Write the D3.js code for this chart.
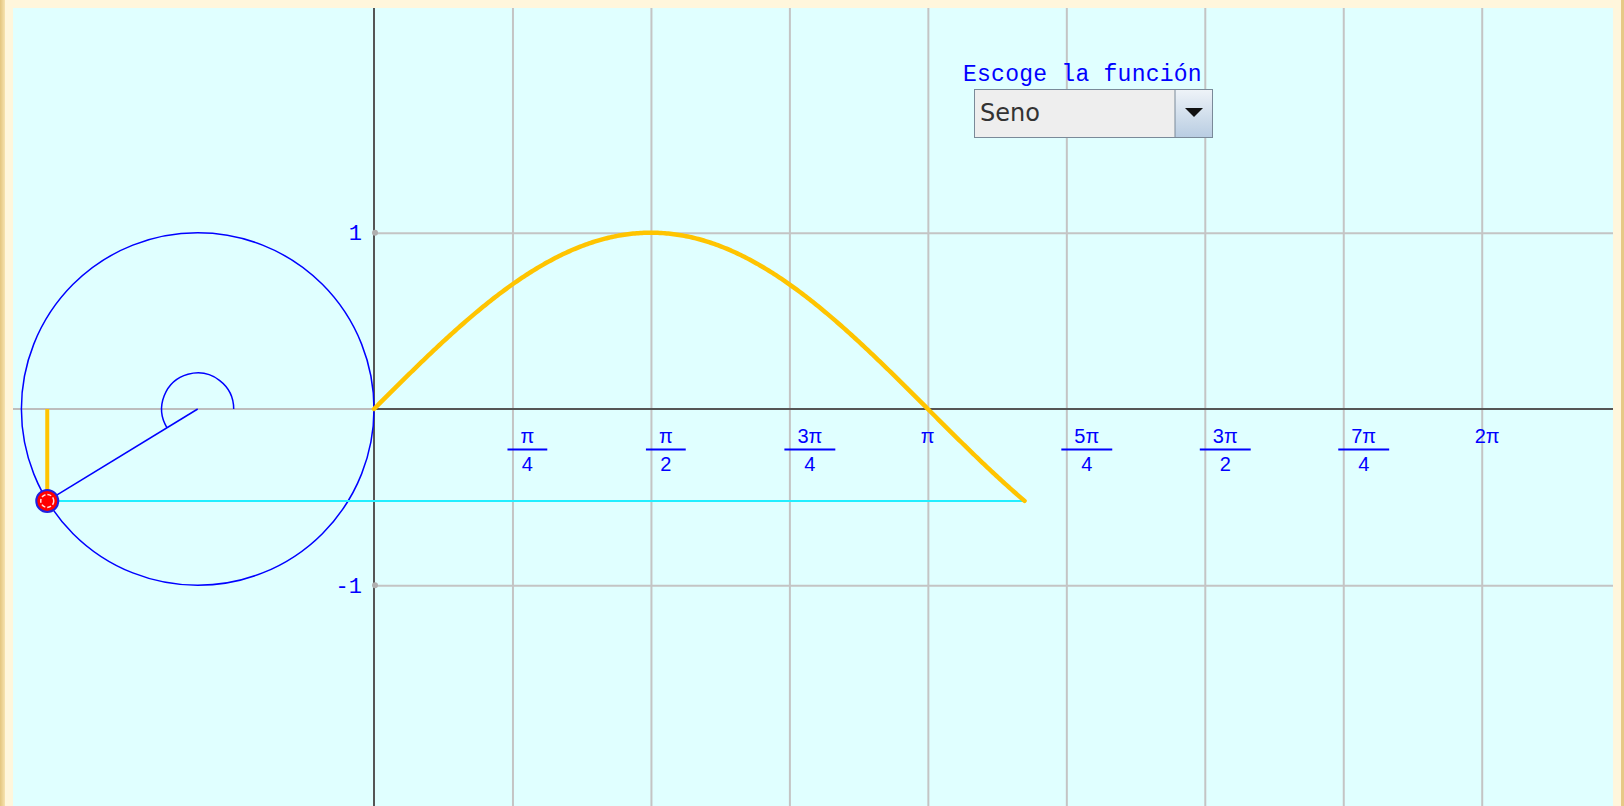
<!DOCTYPE html>
<html>
<head>
    <meta charset="utf-8">
    <script src="https://d3js.org/d3.v7.min.js"></script>
    <style>
        body { margin: 0; background: #fff6dc; overflow: hidden; }
        svg { display: block; }
    </style>
</head>
<body>
<svg id="chart"></svg>
<script>
    // tick values and labels of the x axis (radians)
    var xTickValues = [Math.PI / 4, Math.PI / 2, 3 * Math.PI / 4, Math.PI, 5 * Math.PI / 4, 3 * Math.PI / 2, 7 * Math.PI / 4, 2 * Math.PI];
    var xTickNums = ["π", "π", "3π", "π", "5π", "3π", "7π", "2π"];
    var xTickDens = ["4", "2", "4", "", "4", "2", "4", ""];
    // y axis
    var yTickValues = [1, -1];
    var yTickLabels = ["1", "-1"];
    // current angle of the point on the unit circle
    var angle = 3.69;
    var funciones = ["Seno"];
    var titulo = "Escoge la función";

    var width = 1624, height = 806;
    var panel = { left: 13, top: 8, right: 1613, bottom: 806 };
    var origin = { x: 374, y: 409 }, unit = 176.3;

    var svg = d3.select("#chart").attr("width", width).attr("height", height);

    var defs = svg.append("defs");
    var gold = defs.append("linearGradient").attr("id", "gold").attr("x1", 0).attr("x2", 1);
    gold.append("stop").attr("offset", 0).attr("stop-color", "#e3c57f");
    gold.append("stop").attr("offset", 1).attr("stop-color", "#f7e3b0");
    var btn = defs.append("linearGradient").attr("id", "btn").attr("x1", 0).attr("x2", 0).attr("y1", 0).attr("y2", 1);
    btn.append("stop").attr("offset", 0).attr("stop-color", "#eef3f8");
    btn.append("stop").attr("offset", 1).attr("stop-color", "#b9cde2");

    // frame
    svg.append("rect").attr("width", width).attr("height", height).attr("fill", "#fff6dc");
    svg.append("rect").attr("x", 0).attr("width", 5).attr("height", height).attr("fill", "url(#gold)");
    svg.append("rect").attr("x", 1621).attr("width", 3).attr("height", height).attr("fill", "#e6c987");
    svg.append("rect")
        .attr("x", panel.left).attr("y", panel.top)
        .attr("width", panel.right - panel.left).attr("height", panel.bottom - panel.top)
        .attr("fill", "#e0ffff");

    var x = d3.scaleLinear().domain([0, 1]).range([origin.x, origin.x + unit]);
    var y = d3.scaleLinear().domain([0, 1]).range([origin.y, origin.y - unit]);

    // vertical grid
    svg.append("g")
        .attr("transform", "translate(0," + panel.top + ")")
        .call(d3.axisBottom(x).tickValues(xTickValues).tickSize(panel.bottom - panel.top).tickFormat(""))
        .call(g => g.select(".domain").remove())
        .selectAll("line").attr("stroke", "#c4c4c4").attr("stroke-width", 2);

    // horizontal grid at 1 and -1
    svg.append("g")
        .attr("transform", "translate(" + origin.x + ",0)")
        .call(d3.axisRight(y).tickValues(yTickValues).tickSize(panel.right - origin.x).tickFormat(""))
        .call(g => g.select(".domain").remove())
        .selectAll("line").attr("stroke", "#c4c4c4").attr("stroke-width", 2);

    // left part of the horizontal axis (light)
    svg.append("line")
        .attr("x1", panel.left).attr("x2", origin.x).attr("y1", y(0)).attr("y2", y(0))
        .attr("stroke", "#bdbdbd").attr("stroke-width", 2);

    // axes
    svg.append("line")
        .attr("x1", origin.x).attr("x2", panel.right).attr("y1", y(0)).attr("y2", y(0))
        .attr("stroke", "#555").attr("stroke-width", 2);
    svg.append("line")
        .attr("x1", x(0)).attr("x2", x(0)).attr("y1", panel.top).attr("y2", panel.bottom)
        .attr("stroke", "#555").attr("stroke-width", 2);

    // small dots where grid meets y axis
    svg.append("g").selectAll("circle").data(yTickValues).join("circle")
        .attr("cx", x(0) + 1).attr("cy", d => y(d)).attr("r", 3).attr("fill", "#b0b0b0");

    // y labels
    svg.append("g")
        .attr("transform", "translate(" + (origin.x - 1) + ",0)")
        .call(d3.axisLeft(y).tickValues(yTickValues).tickSize(0).tickPadding(11)
            .tickFormat((d, i) => yTickLabels[i]))
        .call(g => g.select(".domain").remove())
        .selectAll("text")
        .attr("fill", "#0000ff")
        .style("font-family", "'Liberation Mono', monospace")
        .style("font-size", "22px");

    // x labels (fractions)
    var lab = svg.append("g").selectAll("g").data(xTickValues).join("g")
        .style("font-family", "'Liberation Sans', Arial, sans-serif")
        .style("font-size", "20px")
        .attr("fill", "#0000ff");

    lab.each(function (d, i) {
        var g = d3.select(this);
        if (xTickDens[i] === "") {
            g.append("text").attr("x", x(d) - 7).attr("y", 443).text(xTickNums[i]);
            return;
        }
        var num = g.append("text").attr("y", 443).attr("text-anchor", "middle").text(xTickNums[i]);
        var den = g.append("text").attr("y", 471).attr("text-anchor", "middle").text(xTickDens[i]);
        var w = Math.max(num.node().getComputedTextLength(), den.node().getComputedTextLength()) + 26;
        var x0 = x(d) - 5;
        num.attr("x", x0 + w / 2);
        den.attr("x", x0 + w / 2);
        g.append("line")
            .attr("x1", x0).attr("x2", x0 + w).attr("y1", 449.5).attr("y2", 449.5)
            .attr("stroke", "#0000ff").attr("stroke-width", 2);
    });

    // unit circle
    var cx = x(-1), cy = y(0), r = x(1) - x(0);
    svg.append("circle").attr("cx", cx).attr("cy", cy).attr("r", r)
        .attr("fill", "none").attr("stroke", "#0000ff").attr("stroke-width", 1.5);

    // angle arc
    var p = d3.path();
    p.arc(cx, cy, 36, 0, -angle, true);
    svg.append("path").attr("d", p.toString())
        .attr("fill", "none").attr("stroke", "#0000ff").attr("stroke-width", 1.5);

    var px = x(-1 + Math.cos(angle)), py = y(Math.sin(angle));

    // radius
    svg.append("line").attr("x1", cx).attr("y1", cy).attr("x2", px).attr("y2", py)
        .attr("stroke", "#0000ff").attr("stroke-width", 1.5);

    // cyan projection line
    svg.append("line").attr("x1", px).attr("y1", py).attr("x2", x(angle)).attr("y2", py)
        .attr("stroke", "#22eeff").attr("stroke-width", 2);

    // sine curve
    var pts = d3.range(0, angle, 0.01).concat([angle]);
    svg.append("path")
        .datum(pts)
        .attr("d", d3.line().x(d => x(d)).y(d => y(Math.sin(d))))
        .attr("fill", "none").attr("stroke", "#ffc400").attr("stroke-width", 4.5)
        .attr("stroke-linejoin", "round").attr("stroke-linecap", "round");

    // sine segment on the circle
    svg.append("line").attr("x1", px).attr("y1", y(0)).attr("x2", px).attr("y2", py)
        .attr("stroke", "#ffc400").attr("stroke-width", 4);

    // point
    svg.append("circle").attr("cx", px).attr("cy", py).attr("r", 11)
        .attr("fill", "#ff0000").attr("stroke", "#2020e0").attr("stroke-width", 2);
    svg.append("circle").attr("cx", px).attr("cy", py).attr("r", 6.5)
        .attr("fill", "none").attr("stroke", "#ffe0e0").attr("stroke-width", 1.5)
        .attr("stroke-dasharray", "4,2");

    // function selector
    svg.append("text").attr("x", 963).attr("y", 81).text(titulo)
        .attr("fill", "#0000ff")
        .style("font-family", "'Liberation Mono', 'Courier New', monospace")
        .style("font-size", "23px")
        .style("letter-spacing", "0.25px");

    var sel = svg.append("g").attr("transform", "translate(974,89)");
    sel.append("rect").attr("x", 0.5).attr("y", 0.5).attr("width", 238).attr("height", 48)
        .attr("fill", "#eeeeee").attr("stroke", "#7a8a99");
    sel.append("rect").attr("x", 201).attr("y", 1).attr("width", 37).attr("height", 47)
        .attr("fill", "url(#btn)");
    sel.append("line").attr("x1", 201).attr("x2", 201).attr("y1", 0).attr("y2", 49)
        .attr("stroke", "#7a8a99");
    sel.append("path").attr("d", "M211,19 L229,19 L220,28 Z").attr("fill", "#111");
    sel.append("text").attr("x", 6).attr("y", 32).text(funciones[0])
        .attr("fill", "#333")
        .style("font-family", "'DejaVu Sans', sans-serif")
        .style("font-size", "24px");
</script>
</body>
</html>
